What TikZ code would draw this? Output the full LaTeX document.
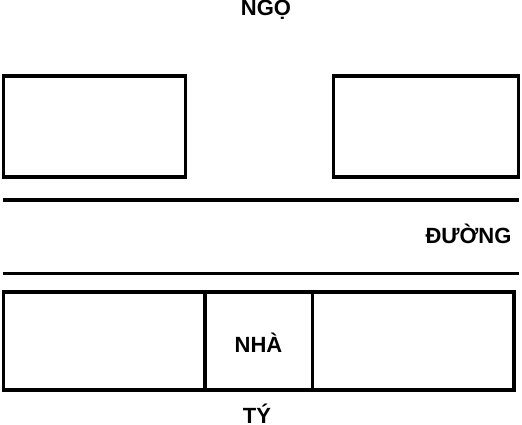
\documentclass[tikz,border=0pt]{standalone}
\usepackage{fontspec}
\setmainfont{Liberation Sans}
\usepackage{tikz}

\begin{document}
\begin{tikzpicture}[x=1pt, y=-1pt, wall/.style={black, line width=3.5pt}, lbl/.style={anchor=base, inner sep=0pt, font=\fontsize{22}{26}\selectfont\bfseries}]
        \useasboundingbox (0, 0) rectangle (522, 424);

        \draw[wall] (3.5, 76) rectangle (185.7, 177);
        \draw[wall] (333.7, 76) rectangle (518.7, 177);

        \draw[wall] (3, 200) -- (519, 200);
        \draw[wall] (3, 273.5) -- (519, 273.5);

        \draw[wall] (3.5, 292) rectangle (514, 390);
        \draw[wall] (205, 292) -- (205, 390);
        \draw[wall] (312.5, 292) -- (312.5, 390);

        \node[lbl] (ngo) at (266, 15) {NGỌ};
        \node[lbl] (duong) at (468.5, 243.3) {ĐƯỜNG};
        \node[lbl] (nha) at (258.5, 352) {NHÀ};
        \node[lbl] (ty) at (257, 423.3) {TÝ};

    \end{tikzpicture}
\end{document}
